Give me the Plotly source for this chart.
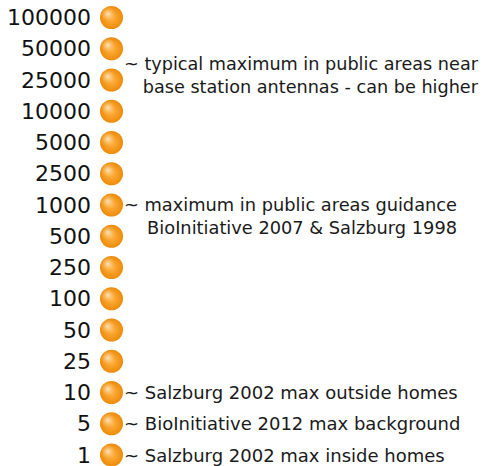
import plotly.graph_objects as go

levels = ["100000", "50000", "25000", "10000", "5000", "2500", "1000", "500",
          "250", "100", "50", "25", "10", "5", "1"]
marker_x = [0] * len(levels)

notes = [
    ("25000", "~ typical maximum in public areas near<br>base station antennas - can be higher", 5, 17.65),
    ("1000", "~ maximum in public areas guidance<br>BioInitiative 2007 & Salzburg 1998", -11, 17.8),
    ("10", "~ Salzburg 2002 max outside homes", 0, 18),
    ("5", "~ BioInitiative 2012 max background", 0, 18),
    ("1", "~ Salzburg 2002 max inside homes", 0, 18),
]

X_RANGE = [-15.5, 371.5]
Y_RANGE = [14.352, -0.56]
HL_DX = 3.5            # highlight offset (px, left)
HL_DY = 3.5 / 31.25    # highlight offset (category units, up)

fig = go.Figure()
# sphere body
fig.add_trace(go.Scatter(
    x=marker_x, y=levels, mode="markers",
    marker=dict(size=23, color="#ee8a08",
                gradient=dict(type="radial", color="#ffb548"),
                line=dict(width=0)),
    hoverinfo="skip", showlegend=False,
))
# specular highlight (same points drawn on offset overlay axes)
fig.add_trace(go.Scatter(
    x=marker_x, y=list(range(len(levels))), mode="markers",
    xaxis="x2", yaxis="y2",
    marker=dict(size=15, color="rgba(255,190,100,0)",
                gradient=dict(type="radial", color="rgba(255,232,200,0.95)"),
                line=dict(width=0)),
    hoverinfo="skip", showlegend=False,
))

for cat, txt, ys, fs in notes:
    fig.add_annotation(
        x=10, y=levels.index(cat), xref="x", yref="y", text=txt, showarrow=False,
        xanchor="left", yanchor="middle", yshift=ys, align="right",
        font=dict(family="DejaVu Sans", size=fs, color="#1a1a1a"),
    )

fig.update_layout(
    width=483, height=466,
    margin=dict(l=96, r=0, t=0, b=0, pad=0),
    paper_bgcolor="white", plot_bgcolor="white",
    xaxis=dict(range=X_RANGE, visible=False, fixedrange=True, automargin=False),
    yaxis=dict(type="category", categoryorder="array", categoryarray=levels,
               range=Y_RANGE, showgrid=False, zeroline=False,
               showline=False, ticks="", ticklabelstandoff=4, automargin=False,
               fixedrange=True,
               tickfont=dict(family="DejaVu Sans", size=22, color="#111111")),
    xaxis2=dict(overlaying="x", range=[X_RANGE[0] + HL_DX, X_RANGE[1] + HL_DX],
                visible=False, fixedrange=True, automargin=False),
    yaxis2=dict(overlaying="y", range=[Y_RANGE[0] + HL_DY, Y_RANGE[1] + HL_DY],
                visible=False, fixedrange=True, automargin=False),
)

fig.write_html(
    "out.html",
    config={"displayModeBar": False, "staticPlot": True},
    post_script="document.body.style.margin='0';document.body.style.overflow='hidden';",
)
